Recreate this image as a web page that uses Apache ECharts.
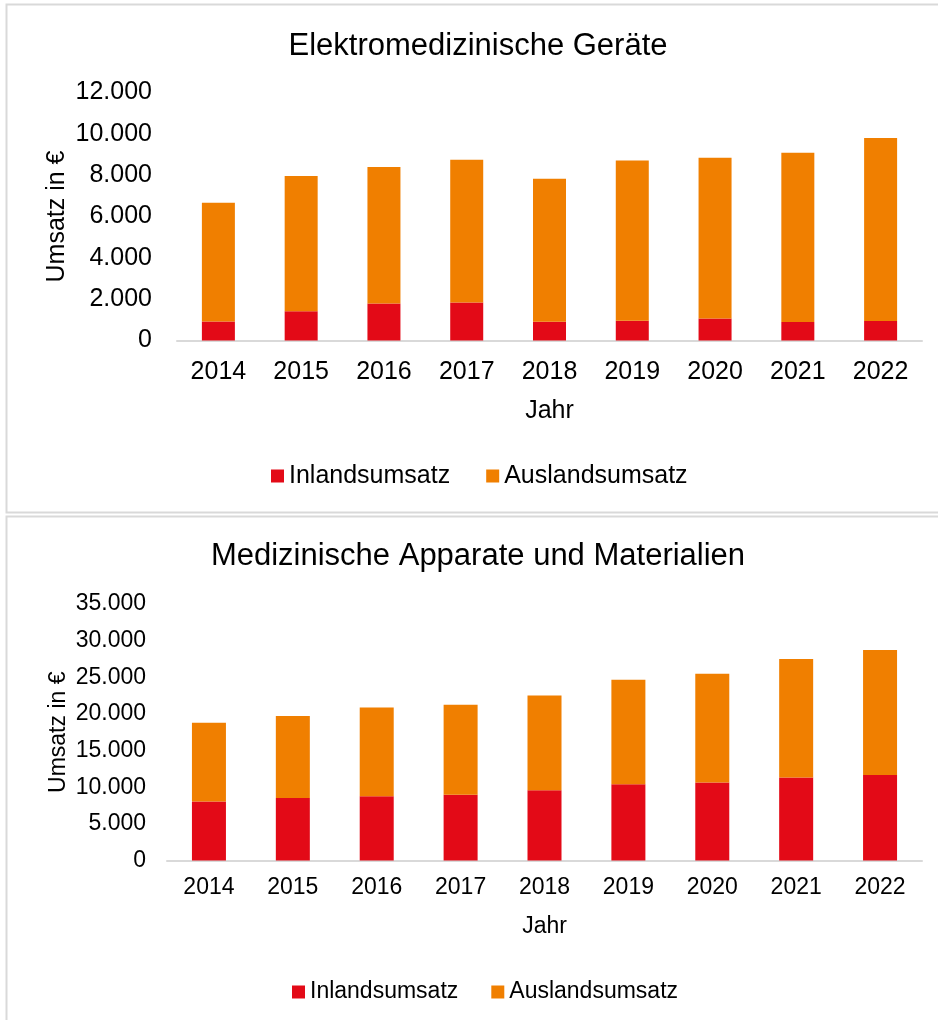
<!DOCTYPE html>
<html>
<head>
<meta charset="utf-8">
<script src="https://cdn.jsdelivr.net/npm/echarts@6/dist/echarts.min.js"></script>
<style>
  html, body { margin: 0; padding: 0; background: #fff; }
  #chart { width: 938px; height: 1020px; }
</style>
</head>
<body>
<div id="chart"></div>
<script>
  // Jahre
  const years = ['2014', '2015', '2016', '2017', '2018', '2019', '2020', '2021', '2022'];

  // Elektromedizinische Geräte
  const elektroInland = [920, 1420, 1790, 1840, 905, 950, 1065, 890, 940];
  const elektroAusland = [5740, 6540, 6600, 6910, 6925, 7760, 7775, 8195, 8860];

  // Medizinische Apparate und Materialien
  const apparateInland = [8040, 8545, 8775, 8955, 9600, 10420, 10640, 11320, 11650];
  const apparateAusland = [10760, 11165, 12115, 12305, 12930, 14250, 14850, 16180, 17080];

  const titles = ['Elektromedizinische Geräte', 'Medizinische Apparate und Materialien'];
  const legendNames = ['Inlandsumsatz', 'Auslandsumsatz'];

  const FONT = '"Liberation Sans", Arial, sans-serif';
  const RED = '#e30a17';
  const ORANGE = '#f07f00';
  const GRAY = '#d9d9d9';

  function fmt(v) {
    return String(v).replace(/\B(?=(\d{3})+(?!\d))/g, '.');
  }

  const chart = echarts.init(document.getElementById('chart'));

  const options = {
    animation: false,
    backgroundColor: '#fff',
    textStyle: { fontFamily: FONT, color: '#000' },
    graphic: [
      {
        type: 'rect',
        shape: { x: 6.5, y: 4.5, width: 1000, height: 508 },
        style: { fill: 'none', stroke: GRAY, lineWidth: 2 }
      },
      {
        type: 'rect',
        shape: { x: 6.5, y: 516.5, width: 1000, height: 600 },
        style: { fill: 'none', stroke: GRAY, lineWidth: 2 }
      }
    ],
    title: [
      {
        text: titles[0], left: 478, top: 31, textAlign: 'center', padding: 0,
        textStyle: { fontFamily: FONT, fontSize: 31, fontWeight: 'normal', color: '#000', lineHeight: 31 }
      },
      {
        text: titles[1], left: 478, top: 541, textAlign: 'center', padding: 0,
        textStyle: { fontFamily: FONT, fontSize: 31, fontWeight: 'normal', color: '#000', lineHeight: 31 }
      }
    ],
    legend: [
      {
        data: legendNames.map((n) => n),
        left: 271, top: 463, padding: 0,
        icon: 'rect', itemWidth: 13, itemHeight: 13, itemGap: 36,
        selectedMode: false,
        textStyle: { fontFamily: FONT, fontSize: 25, color: '#000', lineHeight: 26 },
        formatter: (n) => n.replace(/ $/, '')
      },
      {
        data: legendNames.map((n) => n + ' '),
        left: 292, top: 980, padding: 0,
        icon: 'rect', itemWidth: 13, itemHeight: 13, itemGap: 33,
        selectedMode: false,
        textStyle: { fontFamily: FONT, fontSize: 23, color: '#000', lineHeight: 24 },
        formatter: (n) => n.replace(/ $/, '')
      }
    ],
    grid: [
      { left: 177, right: 16, top: 92.5, bottom: 679.5 },
      { left: 167, right: 16, top: 604, bottom: 159.5 }
    ],
    xAxis: [
      {
        gridIndex: 0, type: 'category', data: years,
        name: 'Jahr', nameLocation: 'middle', nameGap: 58,
        nameTextStyle: { fontFamily: FONT, fontSize: 25, color: '#000' },
        axisLine: { lineStyle: { color: GRAY, width: 2 } },
        axisTick: { show: false },
        axisLabel: { fontFamily: FONT, fontSize: 25, color: '#000', margin: 19 }
      },
      {
        gridIndex: 1, type: 'category', data: years,
        name: 'Jahr', nameLocation: 'middle', nameGap: 55,
        nameTextStyle: { fontFamily: FONT, fontSize: 23, color: '#000' },
        axisLine: { lineStyle: { color: GRAY, width: 2 } },
        axisTick: { show: false },
        axisLabel: { fontFamily: FONT, fontSize: 23, color: '#000', margin: 16 }
      }
    ],
    yAxis: [
      {
        gridIndex: 0, type: 'value', min: 0, max: 12000, interval: 2000,
        name: 'Umsatz in €', nameLocation: 'middle', nameGap: 107, nameRotate: 90,
        nameMoveOverlap: false,
        nameTextStyle: { fontFamily: FONT, fontSize: 25, color: '#000' },
        axisLine: { show: false }, axisTick: { show: false }, splitLine: { show: false },
        axisLabel: { fontFamily: FONT, fontSize: 25, color: '#000', margin: 25, formatter: fmt }
      },
      {
        gridIndex: 1, type: 'value', min: 0, max: 35000, interval: 5000,
        name: 'Umsatz in €', nameLocation: 'middle', nameGap: 97, nameRotate: 90,
        nameMoveOverlap: false,
        nameTextStyle: { fontFamily: FONT, fontSize: 23, color: '#000' },
        axisLine: { show: false }, axisTick: { show: false }, splitLine: { show: false },
        axisLabel: { fontFamily: FONT, fontSize: 23, color: '#000', margin: 21, formatter: fmt }
      }
    ],
    series: [
      {
        name: legendNames[0], type: 'bar', stack: 'a', xAxisIndex: 0, yAxisIndex: 0,
        barWidth: 33, itemStyle: { color: RED }, data: elektroInland
      },
      {
        name: legendNames[1], type: 'bar', stack: 'a', xAxisIndex: 0, yAxisIndex: 0,
        barWidth: 33, itemStyle: { color: ORANGE }, data: elektroAusland
      },
      {
        name: legendNames[0] + ' ', type: 'bar', stack: 'b', xAxisIndex: 1, yAxisIndex: 1,
        barWidth: 34, itemStyle: { color: RED }, data: apparateInland
      },
      {
        name: legendNames[1] + ' ', type: 'bar', stack: 'b', xAxisIndex: 1, yAxisIndex: 1,
        barWidth: 34, itemStyle: { color: ORANGE }, data: apparateAusland
      }
    ]
  };

  chart.setOption(options);
</script>
</body>
</html>
